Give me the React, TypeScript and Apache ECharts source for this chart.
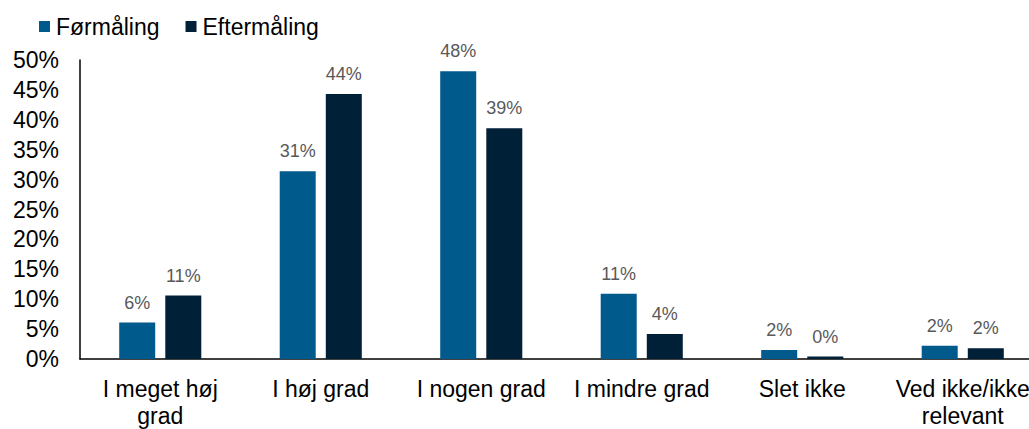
import React, { useEffect, useRef } from "react";
import * as echarts from "echarts";

const categories = [
  "I meget høj\ngrad",
  "I høj grad",
  "I nogen grad",
  "I mindre grad",
  "Slet ikke",
  "Ved ikke/ikke\nrelevant",
];
const seriesNames = ["Førmåling", "Eftermåling"];
const forValues = [6.1, 31.4, 48.1, 10.9, 1.5, 2.2];
const efterValues = [10.6, 44.3, 38.6, 4.2, 0.4, 1.8];
const yTicks = { min: 0, max: 50, interval: 5 };
const colors = ["#005A8C", "#002038"];

const FONT = "'Liberation Sans', Arial, sans-serif";

export default function App() {
  const ref = useRef<HTMLDivElement>(null);
  useEffect(() => {
    if (!ref.current) return;
    const chart = echarts.init(ref.current, undefined, { renderer: "svg" });
    const label = {
      show: true,
      position: "top",
      distance: 11,
      color: "#595959",
      fontSize: 18,
      fontFamily: FONT,
      formatter: (p: any) => Math.round(p.value) + "%",
    };
    chart.setOption({
      animation: false,
      backgroundColor: "#ffffff",
      textStyle: { fontFamily: FONT },
      legend: {
        left: 34,
        top: 10,
        itemWidth: 11,
        itemHeight: 11,
        itemGap: 26,
        icon: "rect",
        textStyle: { fontSize: 23, color: "#000", fontFamily: FONT, padding: [0, 0, 0, 1] },
        data: seriesNames,
      },
      grid: { left: 80, top: 60, width: 963, height: 303 },
      xAxis: {
        type: "category",
        data: categories,
        axisLine: { show: true, lineStyle: { color: "#000", width: 1.5 } },
        axisTick: { show: false },
        axisLabel: {
          color: "#000",
          fontSize: 23,
          fontFamily: FONT,
          margin: 16,
          lineHeight: 27,
          interval: 0,
        },
      },
      yAxis: {
        type: "value",
        min: yTicks.min,
        max: yTicks.max,
        interval: yTicks.interval,
        axisLine: { show: true, lineStyle: { color: "#000", width: 1.5 } },
        axisTick: { show: false },
        splitLine: { show: false },
        axisLabel: {
          color: "#000",
          fontSize: 23,
          fontFamily: FONT,
          margin: 21,
          formatter: "{value}%",
        },
      },
      series: [
        {
          name: seriesNames[0],
          type: "bar",
          data: forValues,
          barWidth: 36,
          barGap: "28%",
          itemStyle: { color: colors[0] },
          label,
        },
        {
          name: seriesNames[1],
          type: "bar",
          data: efterValues,
          barWidth: 36,
          barGap: "28%",
          itemStyle: { color: colors[1] },
          label,
        },
      ],
    });
    return () => chart.dispose();
  }, []);
  return (
    <div
      style={{
        position: "fixed",
        left: 0,
        top: 0,
        width: 1029,
        height: 429,
        overflow: "hidden",
        background: "#fff",
      }}
    >
      <div ref={ref} style={{ width: 1045, height: 429 }} />
    </div>
  );
}
